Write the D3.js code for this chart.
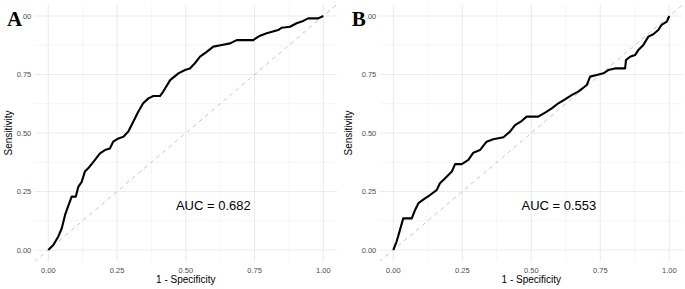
<!DOCTYPE html>
<html>
<head>
<meta charset="utf-8">
<script src="https://cdn.jsdelivr.net/npm/d3@7"></script>
<style>
  body { margin: 0; background: #fff; }
  svg { display: block; }
</style>
</head>
<body>
<div id="chart"></div>
<script>
// ROC curves, two panels. (1 - specificity, sensitivity).
const rocA_fpr = [0, 0.018, 0.036, 0.049, 0.061, 0.073, 0.085, 0.100, 0.109, 0.121, 0.133, 0.145, 0.164, 0.188, 0.206, 0.224, 0.236, 0.255, 0.273, 0.291, 0.309, 0.327, 0.345, 0.364, 0.382, 0.406, 0.418, 0.443, 0.473, 0.497, 0.515, 0.533, 0.552, 0.576, 0.600, 0.631, 0.661, 0.685, 0.745, 0.770, 0.794, 0.836, 0.849, 0.879, 0.903, 0.927, 0.945, 0.982, 1];
const rocA_tpr = [0, 0.021, 0.057, 0.093, 0.150, 0.190, 0.228, 0.228, 0.270, 0.290, 0.335, 0.349, 0.377, 0.413, 0.427, 0.434, 0.463, 0.477, 0.484, 0.506, 0.548, 0.591, 0.627, 0.648, 0.658, 0.658, 0.677, 0.726, 0.755, 0.769, 0.776, 0.798, 0.826, 0.847, 0.869, 0.876, 0.883, 0.897, 0.897, 0.916, 0.926, 0.940, 0.950, 0.954, 0.969, 0.979, 0.990, 0.990, 1];

const rocB_fpr = [0, 0.012, 0.024, 0.036, 0.067, 0.079, 0.091, 0.115, 0.133, 0.157, 0.169, 0.187, 0.212, 0.224, 0.248, 0.272, 0.290, 0.314, 0.338, 0.362, 0.399, 0.423, 0.441, 0.465, 0.483, 0.525, 0.550, 0.574, 0.598, 0.622, 0.646, 0.670, 0.701, 0.713, 0.737, 0.761, 0.779, 0.803, 0.840, 0.843, 0.858, 0.876, 0.888, 0.906, 0.924, 0.942, 0.960, 0.972, 0.991, 1];
const rocB_tpr = [0, 0.036, 0.085, 0.135, 0.135, 0.171, 0.200, 0.221, 0.235, 0.256, 0.285, 0.306, 0.335, 0.367, 0.367, 0.385, 0.416, 0.427, 0.463, 0.473, 0.482, 0.506, 0.534, 0.551, 0.570, 0.570, 0.587, 0.605, 0.627, 0.644, 0.662, 0.677, 0.705, 0.741, 0.748, 0.755, 0.769, 0.776, 0.776, 0.812, 0.826, 0.833, 0.855, 0.876, 0.912, 0.922, 0.940, 0.962, 0.976, 1];

const panelLabels = ["A", "B"];
const aucLabels = ["AUC = 0.682", "AUC = 0.553"];
const ticks = [0, 0.25, 0.5, 0.75, 1];
const minorTicks = [0.125, 0.375, 0.625, 0.875];

const W = 685, H = 289;
const svg = d3.select("#chart").append("svg").attr("width", W).attr("height", H);

const panels = [
  { label: panelLabels[0], auc: aucLabels[0], fpr: rocA_fpr, tpr: rocA_tpr, x0: 48.3, x1: 323.3, left: 0 },
  { label: panelLabels[1], auc: aucLabels[1], fpr: rocB_fpr, tpr: rocB_tpr, x0: 393.3, x1: 669.3, left: 340 }
];

const fmt = d3.format(".2f");

panels.forEach((p, i) => {
  const x = d3.scaleLinear().domain([0, 1]).range([p.x0, p.x1]);
  const y = d3.scaleLinear().domain([0, 1]).range([250, 16]);
  const g = svg.append("g");

  const xl = x(-0.05), xr = x(1.05), yt = y(1.05), yb = y(-0.05);

  g.append("clipPath").attr("id", "clip" + i)
    .append("rect").attr("x", xl).attr("y", yt).attr("width", xr - xl).attr("height", yb - yt);

  // minor grid
  minorTicks.forEach(t => {
    g.append("line").attr("x1", x(t)).attr("x2", x(t)).attr("y1", yt).attr("y2", yb)
      .attr("stroke", "#efefef").attr("stroke-width", 0.6);
    g.append("line").attr("x1", xl).attr("x2", xr).attr("y1", y(t)).attr("y2", y(t))
      .attr("stroke", "#efefef").attr("stroke-width", 0.6);
  });
  // major grid
  ticks.forEach(t => {
    g.append("line").attr("x1", x(t)).attr("x2", x(t)).attr("y1", yt).attr("y2", yb)
      .attr("stroke", "#ebebeb").attr("stroke-width", 1.1);
    g.append("line").attr("x1", xl).attr("x2", xr).attr("y1", y(t)).attr("y2", y(t))
      .attr("stroke", "#ebebeb").attr("stroke-width", 1.1);
  });

  // chance line
  g.append("line")
    .attr("clip-path", `url(#clip${i})`)
    .attr("x1", x(-0.05)).attr("y1", y(-0.05)).attr("x2", x(1.05)).attr("y2", y(1.05))
    .attr("stroke", "#c4c4c4").attr("stroke-width", 1).attr("stroke-dasharray", "4,4");

  // ROC curve
  const pts = p.fpr.map((v, k) => [v, p.tpr[k]]);
  g.append("path").datum(pts)
    .attr("fill", "none").attr("stroke", "#000").attr("stroke-width", 2.1)
    .attr("stroke-linejoin", "round")
    .attr("d", d3.line().x(d => x(d[0])).y(d => y(d[1])));

  // tick labels
  g.selectAll(".xt").data(ticks).join("text")
    .attr("x", d => x(d)).attr("y", 272.5).attr("text-anchor", "middle")
    .attr("font-family", "Liberation Sans, Arial, sans-serif").attr("font-size", 7.5)
    .attr("fill", "#4d4d4d").text(d => fmt(d));
  g.selectAll(".yt").data(ticks).join("text")
    .attr("x", p.x0 - 17).attr("y", d => y(d) + 2.7).attr("text-anchor", "end")
    .attr("font-family", "Liberation Sans, Arial, sans-serif").attr("font-size", 7.5)
    .attr("fill", "#4d4d4d").text(d => fmt(d));

  // axis titles
  g.append("text").attr("x", (p.x0 + p.x1) / 2).attr("y", 283)
    .attr("text-anchor", "middle").attr("font-family", "Liberation Sans, Arial, sans-serif")
    .attr("font-size", 10).attr("fill", "#000").text("1 - Specificity");
  g.append("text")
    .attr("transform", `translate(${p.left + 11.5},${y(0.5)}) rotate(-90)`)
    .attr("text-anchor", "middle").attr("font-family", "Liberation Sans, Arial, sans-serif")
    .attr("font-size", 10).attr("fill", "#000").text("Sensitivity");

  // AUC annotation
  g.append("text").attr("x", x(0.6)).attr("y", 209.5).attr("text-anchor", "middle")
    .attr("font-family", "Liberation Sans, Arial, sans-serif").attr("font-size", 13)
    .attr("fill", "#000").text(p.auc);

  // panel tag
  const tagX = p.left + (i === 0 ? 7 : 11.7);
  g.append("rect").attr("x", tagX).attr("y", 10).attr("width", 15).attr("height", 17).attr("fill", "#fff");
  g.append("text").attr("x", tagX).attr("y", 26)
    .attr("font-family", "Liberation Serif, Times New Roman, serif").attr("font-weight", "bold")
    .attr("font-size", 21).attr("fill", "#000").text(p.label);
});
</script>
</body>
</html>
